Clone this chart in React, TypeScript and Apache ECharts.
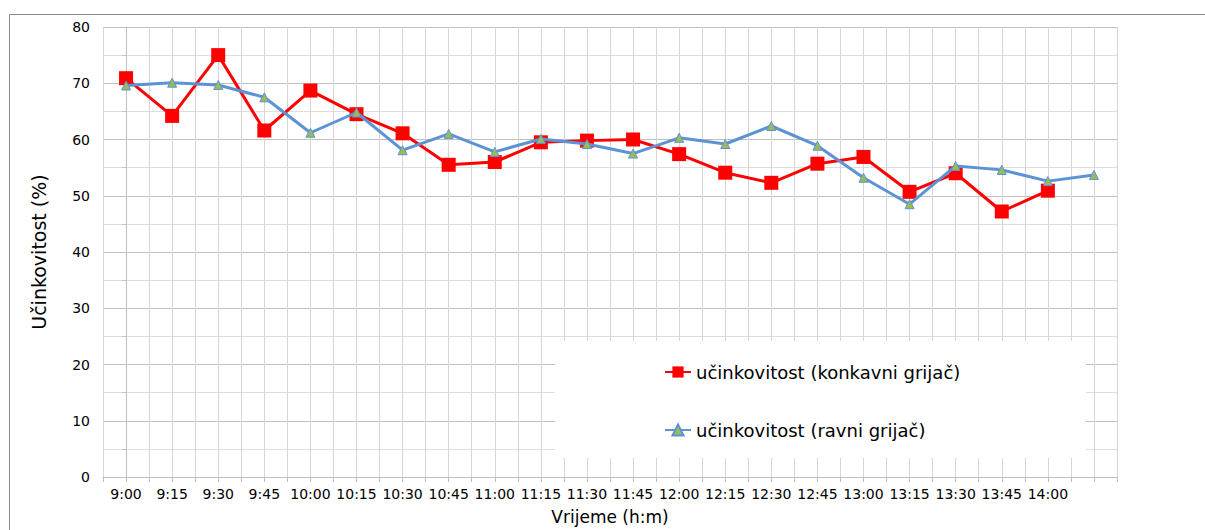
import React, { useEffect, useRef } from "react";
import * as echarts from "echarts";

const timeLabels = [
  "9:00", "9:15", "9:30", "9:45", "10:00", "10:15", "10:30", "10:45", "11:00", "11:15", "11:30",
  "11:45", "12:00", "12:15", "12:30", "12:45", "13:00", "13:15", "13:30", "13:45", "14:00", "",
];

const konkavni = [
  70.9, 64.2, 75.0, 61.6, 68.7, 64.5, 61.1, 55.5, 56.0, 59.5, 59.8,
  60.0, 57.4, 54.1, 52.3, 55.7, 56.9, 50.7, 54.0, 47.2, 50.9, null,
];

const ravni = [
  69.6, 70.1, 69.7, 67.5, 61.2, 64.8, 58.1, 61.0, 57.8, 60.1, 59.2,
  57.5, 60.3, 59.2, 62.4, 58.9, 53.2, 48.5, 55.3, 54.6, 52.6, 53.7,
];

const seriesNames = ["učinkovitost (konkavni grijač)", "učinkovitost (ravni grijač)"];
const yTitle = "Učinkovitost (%)";
const xTitle = "Vrijeme (h:m)";

const FONT = "DejaVu Sans";

export default function App() {
  const ref = useRef<HTMLDivElement>(null);
  useEffect(() => {
    if (!ref.current) return;
    const chart = echarts.init(ref.current, null, { renderer: "svg" });
    const toPairs = (arr: (number | null)[]) =>
      arr.map((v, i) => (v === null ? [i, null] : [i, v]));
    chart.setOption({
      animation: false,
      backgroundColor: "#ffffff",
      textStyle: { fontFamily: FONT },
      grid: { left: 103, right: 88, top: 27, bottom: 53, outerBoundsMode: "none", containLabel: false },
      graphic: [
        {
          type: "rect",
          z: -1,
          silent: true,
          shape: { x: 9.5, y: 14.5, width: 1300, height: 600 },
          style: { fill: "none", stroke: "#8c8c8c", lineWidth: 1 },
        },
        {
          type: "rect",
          z: 5,
          silent: true,
          shape: { x: 555, y: 341, width: 531, height: 117 },
          style: { fill: "#ffffff" },
        },
      ],
      legend: {
        z: 10,
        left: 664,
        top: 361,
        orient: "vertical",
        itemWidth: 26,
        itemHeight: 14,
        itemGap: 36,
        padding: 0,
        textStyle: { fontFamily: FONT, fontSize: 18, color: "#000", lineHeight: 22 },
        data: seriesNames,
      },
      xAxis: {
        type: "value",
        min: -0.5,
        max: 21.5,
        interval: 0.5,
        name: xTitle,
        nameLocation: "middle",
        nameGap: 31,
        nameTextStyle: { fontFamily: FONT, fontSize: 17, color: "#000" },
        axisLine: { show: true, lineStyle: { color: "#bfbfbf", width: 1 } },
        axisTick: { show: true, length: 5, lineStyle: { color: "#bfbfbf" } },
        axisLabel: {
          fontFamily: FONT,
          fontSize: 14,
          color: "#000",
          margin: 10,
          showMinLabel: true,
          showMaxLabel: true,
          formatter: (v: number) =>
            Number.isInteger(v) && v >= 0 && v < timeLabels.length ? timeLabels[v] : "",
        },
        splitLine: { show: true, lineStyle: { color: "#d6d6d6", width: 1 } },
      },
      yAxis: {
        type: "value",
        min: 0,
        max: 80,
        interval: 5,
        name: yTitle,
        nameLocation: "middle",
        nameGap: 55,
        nameTextStyle: { fontFamily: FONT, fontSize: 19, color: "#000" },
        axisLine: { show: true, lineStyle: { color: "#bfbfbf", width: 1 } },
        axisTick: { show: true, length: 4, lineStyle: { color: "#bfbfbf" } },
        axisLabel: {
          fontFamily: FONT,
          fontSize: 14,
          color: "#000",
          margin: 13,
          formatter: (v: number) => (v % 10 === 0 ? String(v) : ""),
        },
        splitLine: { show: true, lineStyle: { color: ["#bfbfbf", "#dedede"], width: 1 } },
      },
      series: [
        {
          name: seriesNames[0],
          type: "line",
          data: toPairs(konkavni),
          symbol: "rect",
          symbolSize: 14,
          lineStyle: { color: "#ff0000", width: 3 },
          itemStyle: { color: "#ff0000" },
          z: 3,
        },
        {
          name: seriesNames[1],
          type: "line",
          data: toPairs(ravni),
          symbol: "triangle",
          symbolSize: 9,
          lineStyle: { color: "#5b93d5", width: 3 },
          itemStyle: { color: "#9bbb59", borderColor: "#5b93d5", borderWidth: 1 },
          z: 4,
        },
      ],
    });
    return () => chart.dispose();
  }, []);
  return (
    <div
      ref={ref}
      style={{ position: "fixed", left: 0, top: 0, width: 1205, height: 530 }}
    />
  );
}
